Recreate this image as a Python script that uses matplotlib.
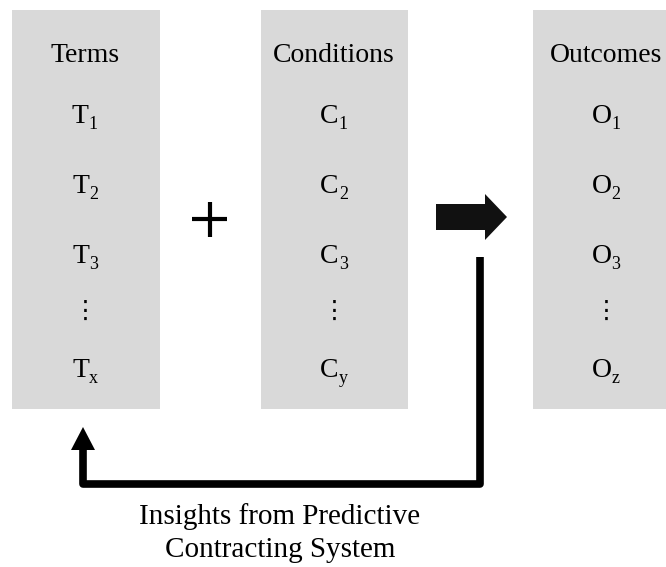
import matplotlib.pyplot as plt
from matplotlib.patches import Rectangle, FancyArrow

plt.rcParams['font.family'] = ['Liberation Serif', 'DejaVu Serif']

titles = ['Terms', 'Conditions', 'Outcomes']
letters = ['T', 'C', 'O']
subs = [['1', '2', '3', 'x'], ['1', '2', '3', 'y'], ['1', '2', '3', 'z']]
caption = ['Insights from Predictive', 'Contracting System']

# column boxes (left, right) in pixel coords, text centre x
box_x = [(12, 160), (261, 408), (533, 680)]
text_x = [85, 334, 606]
row_y = [123, 193, 263, 377]

fig = plt.figure(figsize=(6.66, 5.67), dpi=100)
ax = fig.add_axes([0, 0, 1, 1])
ax.set_xlim(0, 666)
ax.set_ylim(567, 0)
ax.axis('off')
renderer = fig.canvas.get_renderer()

fs = 20
sub_fs = 13
gap = 0


def px_width(t):
    return t.get_window_extent(renderer).width


for (x0, x1), tx, title, let, sb in zip(box_x, text_x, titles, letters, subs):
    ax.add_patch(Rectangle((x0, 10), x1 - x0, 399, color='#d9d9d9', lw=0))
    ax.text(tx, 62, title, ha='center', va='baseline', fontsize=fs)
    for y, s in zip(row_y, sb):
        main = ax.text(tx, y, let, ha='left', va='baseline', fontsize=fs)
        low = ax.text(tx, y + 6, s, ha='left', va='baseline', fontsize=sub_fs)
        w1, w2 = px_width(main), px_width(low)
        left = tx - (w1 + w2 + gap) / 2
        main.set_x(left)
        low.set_x(left + w1 + gap)
    ax.text(tx, 311, '\u22ee', ha='center', va='center', fontsize=18, family=['DejaVu Sans'])

# plus sign
ax.plot([192, 227], [219, 219], color='black', lw=3, solid_capstyle='butt')
ax.plot([209.5, 209.5], [202, 237], color='black', lw=3, solid_capstyle='butt')

# main arrow
ax.add_patch(FancyArrow(436, 217, 71, 0, width=26, head_width=46, head_length=22,
                        length_includes_head=True, color='#111111', lw=0))

# feedback loop
ax.plot([480, 480, 83, 83], [257, 484, 484, 447], color='black', lw=5.5,
        solid_joinstyle='round', solid_capstyle='butt')
ax.add_patch(FancyArrow(83, 450, 0, -23, width=0.1, head_width=24, head_length=23,
                        length_includes_head=True, color='black', lw=0))

ax.text(280, 524, caption[0], ha='center', va='baseline', fontsize=21)
ax.text(280, 557, caption[1], ha='center', va='baseline', fontsize=21)

fig.savefig('out.png', dpi=100)
